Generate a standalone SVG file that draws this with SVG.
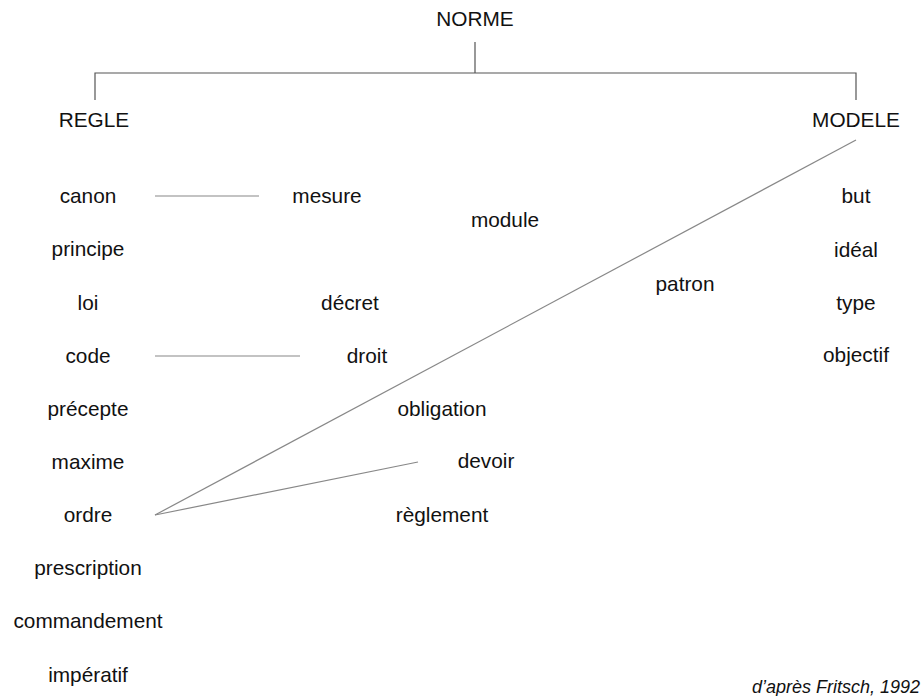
<svg xmlns="http://www.w3.org/2000/svg" width="924" height="696" viewBox="0 0 924 696">
<style>
text{font-family:"Liberation Sans",Arial,sans-serif;font-size:20.8px;fill:#111;text-anchor:middle}
.src{font-size:18px;font-style:italic;text-anchor:end}
.tree{stroke:#555;stroke-width:1.2;fill:none}
.link{stroke:#888;stroke-width:1.2;fill:none}
</style>
<rect width="924" height="696" fill="#fff"/>
<g id="connectors">
<path class="tree" d="M475,42V73M95,100V73H856V100"/>
<line class="link" x1="155" y1="196" x2="259" y2="196"/>
<line class="link" x1="155" y1="356" x2="300" y2="356"/>
<line class="link" x1="155" y1="515" x2="856" y2="140"/>
<line class="link" x1="155" y1="515" x2="418" y2="462"/>
</g>
<g id="norme"><text x="475" y="26">NORME</text></g>
<g id="regle"><text x="94" y="127">REGLE</text></g>
<g id="modele"><text x="856" y="127">MODELE</text></g>
<g id="canon"><text x="88" y="203">canon</text></g>
<g id="principe"><text x="88" y="256">principe</text></g>
<g id="loi"><text x="88" y="310">loi</text></g>
<g id="code"><text x="88" y="363">code</text></g>
<g id="precepte"><text x="88" y="416">précepte</text></g>
<g id="maxime"><text x="88" y="469">maxime</text></g>
<g id="ordre"><text x="88" y="522">ordre</text></g>
<g id="prescription"><text x="88" y="575">prescription</text></g>
<g id="commandement"><text x="88" y="628">commandement</text></g>
<g id="imperatif"><text x="88" y="682">impératif</text></g>
<g id="mesure"><text x="327" y="203">mesure</text></g>
<g id="module"><text x="505" y="227">module</text></g>
<g id="decret"><text x="350" y="310">décret</text></g>
<g id="droit"><text x="367" y="363">droit</text></g>
<g id="patron"><text x="685" y="291">patron</text></g>
<g id="obligation"><text x="442" y="416">obligation</text></g>
<g id="devoir"><text x="486" y="468">devoir</text></g>
<g id="reglement"><text x="442" y="522">règlement</text></g>
<g id="but"><text x="856" y="203">but</text></g>
<g id="ideal"><text x="856" y="257">idéal</text></g>
<g id="type"><text x="856" y="310">type</text></g>
<g id="objectif"><text x="856" y="362">objectif</text></g>
<g id="source"><text class="src" x="920" y="693">d’après Fritsch, 1992</text></g>
</svg>
